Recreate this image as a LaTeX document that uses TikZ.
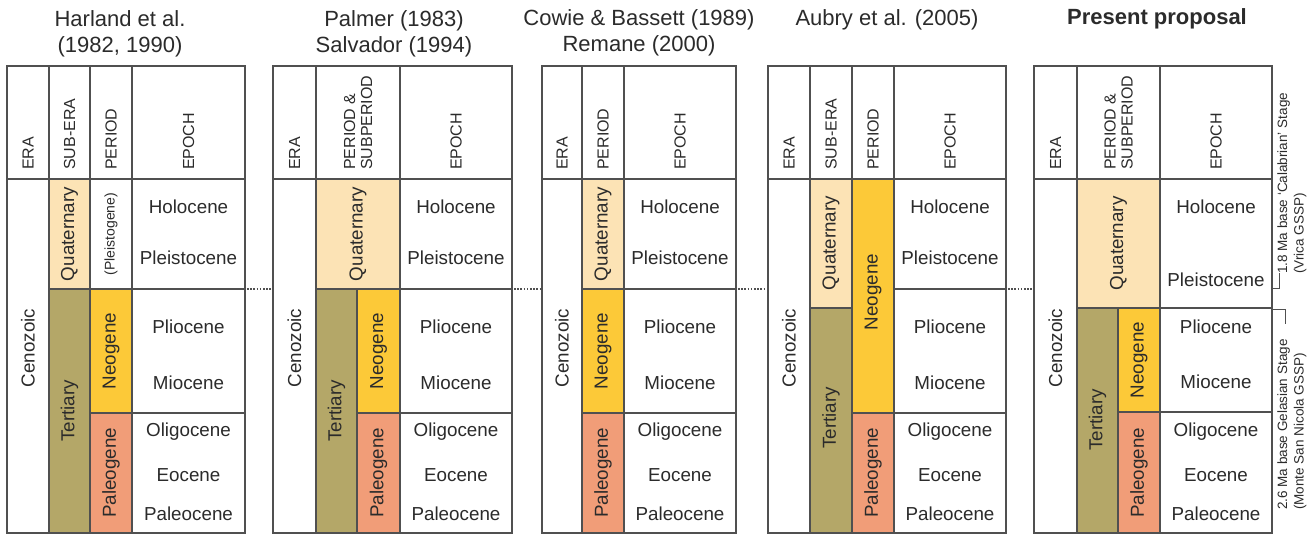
\documentclass[tikz,border=0pt]{standalone}
\usepackage{fontspec}
\setmainfont{Liberation Sans}
\usetikzlibrary{positioning}
\definecolor{gridgray}{HTML}{505050}
\definecolor{textgray}{HTML}{2B2B2B}
\definecolor{quatcol}{HTML}{FCE3B5}
\definecolor{tertcol}{HTML}{B4A768}
\definecolor{neocol}{HTML}{FCC938}
\definecolor{paleocol}{HTML}{F19D78}
\tikzset{
    %Define style for the titles
    reftitle/.style={
           align=center,
           inner sep=0pt,
           text=textgray,
           font=\fontsize{22}{26}\selectfont},
    %Define style for column headers
    colhead/.style={
           rotate=90,
           anchor=west,
           inner sep=0pt,
           align=left,
           text=textgray,
           font=\fontsize{16}{17}\selectfont},
    %Define style for era and period names
    unitlabel/.style={
           rotate=90,
           inner sep=0pt,
           text=textgray,
           font=\fontsize{18.8}{20}\selectfont},
    %Define style for epoch names
    epochlabel/.style={
           inner sep=0pt,
           text=textgray,
           font=\fontsize{18.8}{20}\selectfont},
    %Define style for side notes
    sidenote/.style={
           rotate=90,
           anchor=north west,
           inner sep=0pt,
           align=left,
           text=textgray,
           font=\fontsize{13.5}{16.5}\selectfont},
    % Define line styles
    tabline/.style={
           draw=gridgray,
           line width=1.2pt},
    linkline/.style={
           gridgray,
           line width=1.1pt,
           dash pattern=on 1.6pt off 1.6pt,
           shorten <=2pt,
           shorten >=2pt},
    bracket/.style={
           draw=gridgray,
           line width=0.9pt}
}
\begin{document}
\begin{tikzpicture}[x=1pt, y=-1pt]
    \useasboundingbox[fill=white] (0,0) rectangle (1316,537);

    % Harland et al.
    \node[reftitle] (harland) at (120,33.5) {Harland et al.\\(1982, 1990)};
    \draw[tabline, fill=quatcol] (49,179) rectangle (90,289);
    \draw[tabline, fill=tertcol] (49,289) rectangle (90,533);
    \draw[tabline, fill=neocol] (90,289) rectangle (132,413);
    \draw[tabline, fill=paleocol] (90,413) rectangle (132,533);
    \draw[tabline] (7,66) rectangle (245,533);
    \draw[tabline] (7,179) -- (245,179) (49,66) -- (49,533) (90,66) -- (90,533) (132,66) -- (132,533);
    \draw[tabline] (132,289) -- (245,289) (132,413) -- (245,413);
    \node[colhead] (era1) at (28,170) {ERA};
    \node[colhead] (subera1) at (69.5,170) {SUB-ERA};
    \node[colhead] (period1) at (111,170) {PERIOD};
    \node[colhead] (epoch1) at (188.5,170) {EPOCH};
    \node[unitlabel] (ceno1) at (28,348) {Cenozoic};
    \node[unitlabel] (quat1) at (69.5,234) {Quaternary};
    \node[unitlabel] (tert1) at (69.5,411) {Tertiary};
    \node[unitlabel, font=\fontsize{14}{16}\selectfont] (pleistog1) at (111,234) {(Pleistogene)};
    \node[unitlabel] (neo1) at (111,351) {Neogene};
    \node[unitlabel] (paleo1) at (111,473) {Paleogene};
    \node[epochlabel] (holo1) at (188.5,207) {Holocene};
    \node[epochlabel] (pleist1) at (188.5,258) {Pleistocene};
    \node[epochlabel] (plio1) at (188.5,327) {Pliocene};
    \node[epochlabel] (mio1) at (188.5,383) {Miocene};
    \node[epochlabel] (oligo1) at (188.5,432) {Oligocene};
    \node[epochlabel] (eo1) at (188.5,475) {Eocene};
    \node[epochlabel] (paleoc1) at (188.5,514) {Paleocene};

    % Palmer / Salvador
    \node[reftitle] (palmer) at (394,33.5) {Palmer (1983)\\Salvador (1994)};
    \draw[tabline, fill=quatcol] (316,179) rectangle (400,289);
    \draw[tabline, fill=tertcol] (316,289) rectangle (357,533);
    \draw[tabline, fill=neocol] (357,289) rectangle (400,413);
    \draw[tabline, fill=paleocol] (357,413) rectangle (400,533);
    \draw[tabline] (273,66) rectangle (512,533);
    \draw[tabline] (273,179) -- (512,179) (316,66) -- (316,533) (400,66) -- (400,533);
    \draw[tabline] (400,289) -- (512,289) (400,413) -- (512,413);
    \node[colhead] (era2) at (294.5,170) {ERA};
    \node[colhead] (period2) at (358,170) {PERIOD \&\\SUBPERIOD};
    \node[colhead] (epoch2) at (456,170) {EPOCH};
    \node[unitlabel] (ceno2) at (294.5,348) {Cenozoic};
    \node[unitlabel] (quat2) at (358,234) {Quaternary};
    \node[unitlabel] (tert2) at (336.5,411) {Tertiary};
    \node[unitlabel] (neo2) at (378.5,351) {Neogene};
    \node[unitlabel] (paleo2) at (378.5,473) {Paleogene};
    \node[epochlabel] (holo2) at (456,207) {Holocene};
    \node[epochlabel] (pleist2) at (456,258) {Pleistocene};
    \node[epochlabel] (plio2) at (456,327) {Pliocene};
    \node[epochlabel] (mio2) at (456,383) {Miocene};
    \node[epochlabel] (oligo2) at (456,432) {Oligocene};
    \node[epochlabel] (eo2) at (456,475) {Eocene};
    \node[epochlabel] (paleoc2) at (456,514) {Paleocene};

    % Cowie & Bassett / Remane
    \node[reftitle] (cowie) at (639,32.5) {Cowie \& Bassett (1989)\\Remane (2000)};
    \draw[tabline, fill=quatcol] (582,179) rectangle (624,289);
    \draw[tabline, fill=neocol] (582,289) rectangle (624,413);
    \draw[tabline, fill=paleocol] (582,413) rectangle (624,533);
    \draw[tabline] (542,66) rectangle (736,533);
    \draw[tabline] (542,179) -- (736,179) (582,66) -- (582,533) (624,66) -- (624,533);
    \draw[tabline] (624,289) -- (736,289) (624,413) -- (736,413);
    \node[colhead] (era3) at (562,170) {ERA};
    \node[colhead] (period3) at (603,170) {PERIOD};
    \node[colhead] (epoch3) at (680,170) {EPOCH};
    \node[unitlabel] (ceno3) at (562,348) {Cenozoic};
    \node[unitlabel] (quat3) at (603,234) {Quaternary};
    \node[unitlabel] (neo3) at (603,351) {Neogene};
    \node[unitlabel] (paleo3) at (603,473) {Paleogene};
    \node[epochlabel] (holo3) at (680,207) {Holocene};
    \node[epochlabel] (pleist3) at (680,258) {Pleistocene};
    \node[epochlabel] (plio3) at (680,327) {Pliocene};
    \node[epochlabel] (mio3) at (680,383) {Miocene};
    \node[epochlabel] (oligo3) at (680,432) {Oligocene};
    \node[epochlabel] (eo3) at (680,475) {Eocene};
    \node[epochlabel] (paleoc3) at (680,514) {Paleocene};

    % Aubry et al.
    \node[reftitle] (aubry) at (887,20) {Aubry et al. (2005)};
    \draw[tabline, fill=quatcol] (810,179) rectangle (852,308);
    \draw[tabline, fill=tertcol] (810,308) rectangle (852,533);
    \draw[tabline, fill=neocol] (852,179) rectangle (894,413);
    \draw[tabline, fill=paleocol] (852,413) rectangle (894,533);
    \draw[tabline] (768,66) rectangle (1006,533);
    \draw[tabline] (768,179) -- (1006,179) (810,66) -- (810,533) (852,66) -- (852,533) (894,66) -- (894,533);
    \draw[tabline] (894,289) -- (1006,289) (894,413) -- (1006,413);
    \node[colhead] (era4) at (789,170) {ERA};
    \node[colhead] (subera4) at (831,170) {SUB-ERA};
    \node[colhead] (period4) at (873,170) {PERIOD};
    \node[colhead] (epoch4) at (950,170) {EPOCH};
    \node[unitlabel] (ceno4) at (789,348) {Cenozoic};
    \node[unitlabel] (quat4) at (831,243) {Quaternary};
    \node[unitlabel] (tert4) at (831,418) {Tertiary};
    \node[unitlabel] (neo4) at (873,292) {Neogene};
    \node[unitlabel] (paleo4) at (873,473) {Paleogene};
    \node[epochlabel] (holo4) at (950,207) {Holocene};
    \node[epochlabel] (pleist4) at (950,258) {Pleistocene};
    \node[epochlabel] (plio4) at (950,327) {Pliocene};
    \node[epochlabel] (mio4) at (950,383) {Miocene};
    \node[epochlabel] (oligo4) at (950,432) {Oligocene};
    \node[epochlabel] (eo4) at (950,475) {Eocene};
    \node[epochlabel] (paleoc4) at (950,514) {Paleocene};

    % Present proposal
    \node[reftitle, font=\fontsize{22}{26}\bfseries] (present) at (1157,19) {Present proposal};
    \draw[tabline, fill=quatcol] (1077,179) rectangle (1160,308);
    \draw[tabline, fill=tertcol] (1077,308) rectangle (1118,533);
    \draw[tabline, fill=neocol] (1118,308) rectangle (1160,412);
    \draw[tabline, fill=paleocol] (1118,412) rectangle (1160,533);
    \draw[tabline] (1034,66) rectangle (1272,533);
    \draw[tabline] (1034,179) -- (1272,179) (1077,66) -- (1077,533) (1160,66) -- (1160,533);
    \draw[tabline] (1160,308) -- (1272,308) (1160,412) -- (1272,412);
    \node[colhead] (era5) at (1055.5,170) {ERA};
    \node[colhead] (period5) at (1118.5,170) {PERIOD \&\\SUBPERIOD};
    \node[colhead] (epoch5) at (1216,170) {EPOCH};
    \node[unitlabel] (ceno5) at (1055.5,348) {Cenozoic};
    \node[unitlabel] (quat5) at (1118.5,243.5) {Quaternary};
    \node[unitlabel] (tert5) at (1097.5,420) {Tertiary};
    \node[unitlabel] (neo5) at (1139,360) {Neogene};
    \node[unitlabel] (paleo5) at (1139,473) {Paleogene};
    \node[epochlabel] (holo5) at (1216,207) {Holocene};
    \node[epochlabel] (pleist5) at (1216,280) {Pleistocene};
    \node[epochlabel] (plio5) at (1216,327) {Pliocene};
    \node[epochlabel] (mio5) at (1216,382) {Miocene};
    \node[epochlabel] (oligo5) at (1216,432) {Oligocene};
    \node[epochlabel] (eo5) at (1216,475) {Eocene};
    \node[epochlabel] (paleoc5) at (1216,514) {Paleocene};

    % side notes
    \node[sidenote] (calabrian) at (1277,274) {1.8 Ma base `Calabrian' Stage\\(Vrica GSSP)};
    \node[sidenote] (gelasian) at (1277,510) {2.6 Ma base Gelasian Stage\\(Monte San Nicola GSSP)};
    \coordinate (calab a) at (1272,288);
    \coordinate (calab b) at (1279,273);
    \coordinate (gelas a) at (1272,309);
    \coordinate (gelas b) at (1285,324);
    \draw[bracket] (calab a) -| (calab b);
    \draw[bracket] (gelas a) -| (gelas b);

    % dotted links between columns
    \coordinate (link1a) at (245,289);
    \coordinate (link1b) at (273,289);
    \coordinate (link2a) at (512,289);
    \coordinate (link2b) at (542,289);
    \coordinate (link3a) at (736,289);
    \coordinate (link3b) at (768,289);
    \coordinate (link4a) at (1006,289);
    \coordinate (link4b) at (1034,289);
    \draw[linkline] (link1a) -- (link1b);
    \draw[linkline] (link2a) -- (link2b);
    \draw[linkline] (link3a) -- (link3b);
    \draw[linkline] (link4a) -- (link4b);
\end{tikzpicture}
\end{document}
